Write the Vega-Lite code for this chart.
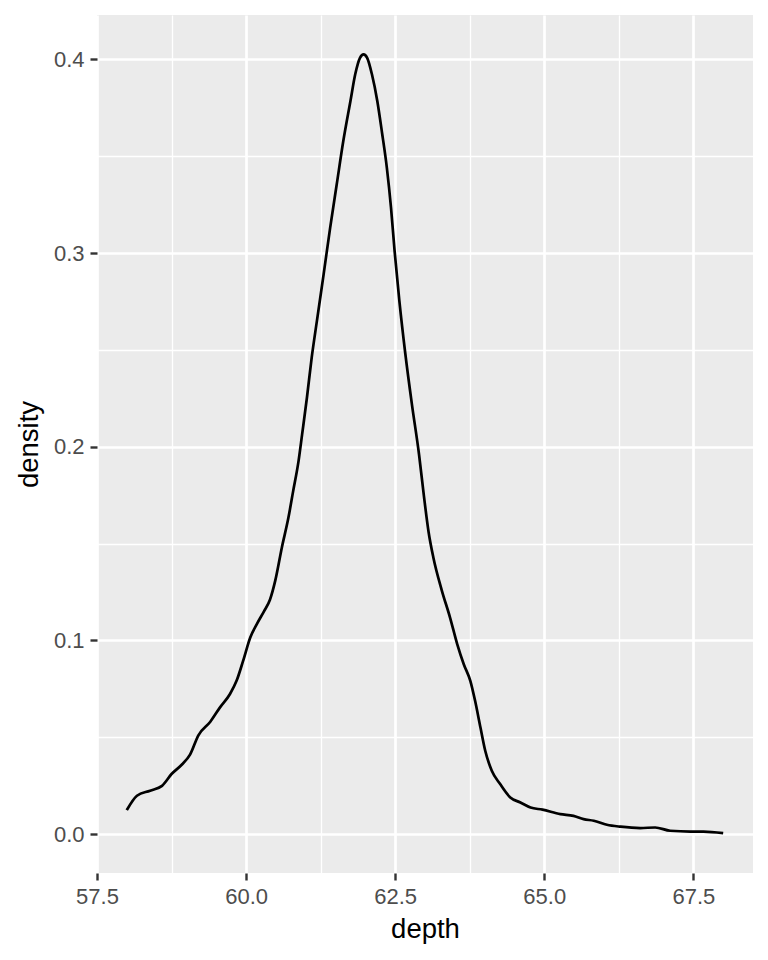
{
  "$schema": "https://vega.github.io/schema/vega-lite/v6.json",
  "width": 656,
  "height": 858,
  "autosize": {"type": "none"},
  "padding": {"left": 97, "top": 15, "right": 15, "bottom": 87},
  "background": "white",
  "config": {
    "view": {"fill": "#EBEBEB", "stroke": null},
    "font": "Liberation Sans"
  },
  "data": {
    "values": [
      {"depth": 58.00, "density": 0.0124},
      {"depth": 58.17, "density": 0.0198},
      {"depth": 58.39, "density": 0.0224},
      {"depth": 58.59, "density": 0.0249},
      {"depth": 58.75, "density": 0.0310},
      {"depth": 58.92, "density": 0.0358},
      {"depth": 59.06, "density": 0.0410},
      {"depth": 59.20, "density": 0.0510},
      {"depth": 59.40, "density": 0.0580},
      {"depth": 59.56, "density": 0.0653},
      {"depth": 59.73, "density": 0.0723},
      {"depth": 59.84, "density": 0.0791},
      {"depth": 59.95, "density": 0.0894},
      {"depth": 60.07, "density": 0.1015},
      {"depth": 60.18, "density": 0.1084},
      {"depth": 60.30, "density": 0.1150},
      {"depth": 60.40, "density": 0.1210},
      {"depth": 60.49, "density": 0.1310},
      {"depth": 60.60, "density": 0.1480},
      {"depth": 60.71, "density": 0.1634},
      {"depth": 60.79, "density": 0.1772},
      {"depth": 60.88, "density": 0.1927},
      {"depth": 60.94, "density": 0.2065},
      {"depth": 61.02, "density": 0.2253},
      {"depth": 61.10, "density": 0.2460},
      {"depth": 61.19, "density": 0.2655},
      {"depth": 61.30, "density": 0.2890},
      {"depth": 61.41, "density": 0.3131},
      {"depth": 61.52, "density": 0.3355},
      {"depth": 61.63, "density": 0.3578},
      {"depth": 61.75, "density": 0.3785},
      {"depth": 61.83, "density": 0.3923},
      {"depth": 61.91, "density": 0.4008},
      {"depth": 61.97, "density": 0.4026},
      {"depth": 62.03, "density": 0.4008},
      {"depth": 62.11, "density": 0.3923},
      {"depth": 62.20, "density": 0.3785},
      {"depth": 62.28, "density": 0.3620},
      {"depth": 62.36, "density": 0.3441},
      {"depth": 62.43, "density": 0.3234},
      {"depth": 62.49, "density": 0.3011},
      {"depth": 62.57, "density": 0.2753},
      {"depth": 62.67, "density": 0.2480},
      {"depth": 62.78, "density": 0.2220},
      {"depth": 62.90, "density": 0.1960},
      {"depth": 62.98, "density": 0.1750},
      {"depth": 63.06, "density": 0.1560},
      {"depth": 63.14, "density": 0.1428},
      {"depth": 63.28, "density": 0.1260},
      {"depth": 63.42, "density": 0.1118},
      {"depth": 63.54, "density": 0.0981},
      {"depth": 63.65, "density": 0.0877},
      {"depth": 63.76, "density": 0.0791},
      {"depth": 63.84, "density": 0.0688},
      {"depth": 63.93, "density": 0.0550},
      {"depth": 64.01, "density": 0.0430},
      {"depth": 64.12, "density": 0.0327},
      {"depth": 64.26, "density": 0.0258},
      {"depth": 64.43, "density": 0.0189},
      {"depth": 64.60, "density": 0.0163},
      {"depth": 64.77, "density": 0.0137},
      {"depth": 64.97, "density": 0.0126},
      {"depth": 65.27, "density": 0.0103},
      {"depth": 65.49, "density": 0.0094},
      {"depth": 65.66, "density": 0.0077},
      {"depth": 65.83, "density": 0.0069},
      {"depth": 66.05, "density": 0.0048},
      {"depth": 66.28, "density": 0.0038},
      {"depth": 66.61, "density": 0.0031},
      {"depth": 66.86, "density": 0.0034},
      {"depth": 67.11, "density": 0.0017},
      {"depth": 67.45, "density": 0.0013},
      {"depth": 67.67, "density": 0.0013},
      {"depth": 68.00, "density": 0.0005}
    ]
  },
  "layer": [
    {
      "mark": {"type": "line", "strokeOpacity": 0},
      "encoding": {
        "x": {
          "field": "depth", "type": "quantitative",
          "scale": {"domain": [57.5, 68.5], "nice": false, "zero": false},
          "axis": {"orient": "bottom", "values": [58.75, 61.25, 63.75, 66.25], "grid": true, "gridColor": "white", "gridWidth": 1.3, "labels": false, "ticks": false, "domain": false, "title": null}
        },
        "y": {
          "field": "density", "type": "quantitative",
          "scale": {"domain": [-0.0201, 0.4229], "nice": false, "zero": false},
          "axis": {"orient": "left", "values": [0.05, 0.15, 0.25, 0.35], "grid": true, "gridColor": "white", "gridWidth": 1.3, "labels": false, "ticks": false, "domain": false, "title": null}
        }
      }
    },
    {
      "mark": {"type": "line", "color": "black", "strokeWidth": 2.7, "interpolate": "monotone"},
      "encoding": {
        "x": {
          "field": "depth", "type": "quantitative",
          "axis": {
            "orient": "bottom", "values": [57.5, 60, 62.5, 65, 67.5], "format": ".1f",
            "grid": true, "gridColor": "white", "gridWidth": 2.7,
            "domain": false, "ticks": true, "tickColor": "#333333", "tickWidth": 2.4, "tickSize": 7,
            "labelColor": "#4D4D4D", "labelFontSize": 22, "labelPadding": 6, "labelFont": "Liberation Sans", "labelFlush": false, "labelOverlap": false,
            "title": "depth", "titleColor": "black", "titleFontSize": 27.5, "titleFontWeight": "normal", "titleFont": "Liberation Sans", "titlePadding": 8
          }
        },
        "y": {
          "field": "density", "type": "quantitative",
          "axis": {
            "orient": "left", "values": [0, 0.1, 0.2, 0.3, 0.4], "format": ".1f",
            "grid": true, "gridColor": "white", "gridWidth": 2.7,
            "domain": false, "ticks": true, "tickColor": "#333333", "tickWidth": 2.4, "tickSize": 7,
            "labelColor": "#4D4D4D", "labelFontSize": 22, "labelPadding": 6, "labelFont": "Liberation Sans", "labelFlush": false, "labelOverlap": false,
            "title": "density", "titleColor": "black", "titleFontSize": 27.5, "titleFontWeight": "normal", "titleFont": "Liberation Sans", "titlePadding": 10
          }
        }
      }
    }
  ],
  "resolve": {"axis": {"x": "independent", "y": "independent"}}
}
